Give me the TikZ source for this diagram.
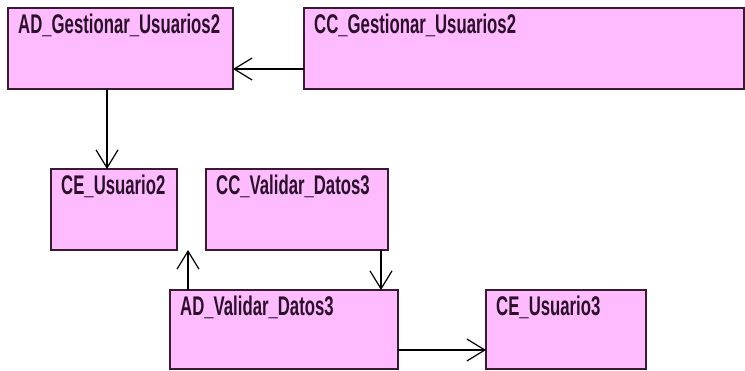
\documentclass[tikz,border=0pt]{standalone}
\usepackage{fontspec}
\setmainfont{Liberation Sans}[FakeStretch=0.62]
\usetikzlibrary{arrows.meta,positioning}
\definecolor{Rosa}{HTML}{FFBBFF}
\definecolor{Borde}{HTML}{3A1A30}
\definecolor{Tinta}{HTML}{2A1028}

\begin{document}
\begin{tikzpicture}[x=1pt,y=-1pt,
    clase/.style={draw=Borde,fill=Rosa,line width=1.4pt,anchor=north west,
      minimum height=81pt,inner sep=0pt,outer sep=0pt},
    titulo/.style={anchor=north west,inner sep=0pt,xshift=10pt,yshift=-6pt,
      text=Tinta,font=\bfseries\fontsize{27}{30}\selectfont},
    dep/.style={-{Straight Barb[length=18pt,width=22pt,line width=1.2pt]},line width=1.2pt,black}
  ]
    \useasboundingbox (0,0) rectangle (745,370);
    \node[clase,minimum width=225pt,label={[titulo]north west:AD\_Gestionar\_Usuarios2}] (adg) at (8,8) {};
    \node[clase,minimum width=440pt,right=71pt of adg,label={[titulo]north west:CC\_Gestionar\_Usuarios2}] (ccg) {};
    \node[clase,minimum width=126pt,label={[titulo]north west:CE\_Usuario2}] (ce2) at (51,169) {};
    \node[clase,minimum width=182pt,right=29pt of ce2,label={[titulo]north west:CC\_Validar\_Datos3}] (ccv) {};
    \node[clase,minimum width=228pt,minimum height=79pt,label={[titulo]north west:AD\_Validar\_Datos3}] (adv) at (170,290) {};
    \node[clase,minimum width=160pt,minimum height=79pt,right=88pt of adv,label={[titulo]north west:CE\_Usuario3}] (ce3) {};
    % dependencias
    \draw[dep] ([yshift=-20.5pt]ccg.west) -- ([yshift=-20.5pt]adg.east);
    \draw[dep] ([xshift=-7pt]ce2.north |- adg.south) -- ([xshift=-7pt]ce2.north);
    \draw[dep] ([xshift=18pt]adv.north west) -- ([xshift=18pt]adv.north west |- ce2.south);
    \draw[dep] ([xshift=-7pt]ccv.south east) -- ([xshift=-7pt]ccv.south east |- adv.north);
    \draw[dep] ([yshift=19pt]adv.south east) -- ([yshift=19pt]adv.south east -| ce3.west);
  \end{tikzpicture}
\end{document}
